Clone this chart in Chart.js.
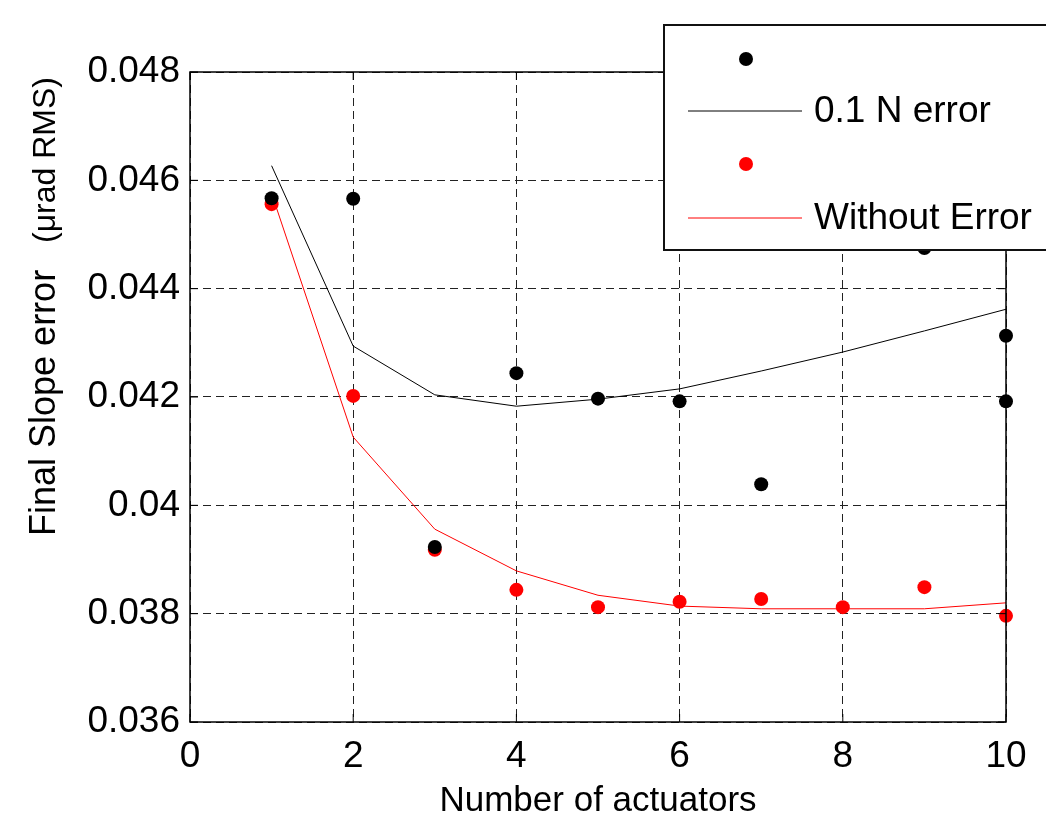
<!DOCTYPE html>
<html>
<head>
<meta charset="utf-8">
<script src="https://cdn.jsdelivr.net/npm/chart.js@4.4.1/dist/chart.umd.min.js"></script>
<style>
  html, body { margin: 0; padding: 0; background: #fff; }
  #wrap { width: 1046px; height: 819px; }
</style>
</head>
<body>
<div id="wrap"><canvas id="grafica" width="1046" height="819"></canvas></div>
<script>
// data
var actuators = [1, 2, 3, 4, 5, 6, 7, 8, 9, 10];
var errorX = [1, 2, 3, 4, 5, 6, 7, 9, 10, 10];
var errorPts = [0.04567, 0.04566, 0.03923, 0.04244, 0.04197, 0.04192, 0.04039, 0.04475, 0.04313, 0.04192];
var errorFit = [0.04627, 0.04294, 0.04204, 0.04183, 0.04196, 0.04215, 0.04248, 0.04283, 0.04322, 0.04362];
var noErrorPts = [0.04556, 0.04202, 0.03918, 0.03844, 0.03812, 0.03822, 0.03827, 0.03812, 0.03849, 0.03796];
var noErrorFit = [0.04576, 0.04126, 0.03956, 0.03879, 0.03834, 0.03814, 0.03809, 0.03809, 0.03809, 0.0382];
var xTicks = [0, 2, 4, 6, 8, 10];
var yTicks = [0.036, 0.038, 0.04, 0.042, 0.044, 0.046, 0.048];
var legendLabels = ['', '0.1 N error', '', 'Without Error'];

var fuente = "'Liberation Sans', Arial, sans-serif";

function pares(xs, ys) {
    return ys.map(function(v, i){ return {x: xs[i], y: v}; });
}

// frame, inside ticks, axis titles and the legend box
var marco = {
    id: 'marco',
    afterDatasetsDraw: function(chart){
        var ctx = chart.ctx, a = chart.chartArea;
        var sx = chart.scales.x, sy = chart.scales.y;
        ctx.save();
        ctx.strokeStyle = '#000';
        ctx.lineWidth = 1.5;
        ctx.setLineDash([]);
        ctx.strokeRect(a.left, a.top, a.right - a.left, a.bottom - a.top);
        ctx.lineWidth = 1;
        xTicks.forEach(function(t){
            var px = sx.getPixelForValue(t);
            ctx.beginPath();
            ctx.moveTo(px, a.bottom); ctx.lineTo(px, a.bottom - 8);
            ctx.moveTo(px, a.top); ctx.lineTo(px, a.top + 8);
            ctx.stroke();
        });
        yTicks.forEach(function(t){
            var py = sy.getPixelForValue(t);
            ctx.beginPath();
            ctx.moveTo(a.left, py); ctx.lineTo(a.left + 8, py);
            ctx.moveTo(a.right, py); ctx.lineTo(a.right - 8, py);
            ctx.stroke();
        });
        ctx.fillStyle = '#000';
        ctx.font = '35px ' + fuente;
        ctx.textAlign = 'center';
        ctx.textBaseline = 'middle';
        ctx.fillText('Number of actuators', (a.left + a.right) / 2, 801);
        // y title, two sizes
        ctx.translate(55, 0);
        ctx.rotate(-Math.PI / 2);
        ctx.textAlign = 'left';
        ctx.textBaseline = 'alphabetic';
        ctx.font = '36px ' + fuente;
        ctx.fillText('Final Slope error', -536, 0);
        ctx.font = '32px ' + fuente;
        ctx.fillText('(\u03bcrad RMS)', -243, 0);
        ctx.restore();
    },
    afterDraw: function(chart){
        var ctx = chart.ctx;
        var ds = chart.data.datasets;
        ctx.save();
        ctx.fillStyle = '#fff';
        ctx.fillRect(664, 25, 400, 225);
        ctx.strokeStyle = '#111';
        ctx.lineWidth = 2;
        ctx.strokeRect(664, 25, 400, 225);
        var filas = [59, 111, 164, 218];
        ds.forEach(function(d, i){
            var y = filas[i];
            if (d.showLine) {
                ctx.strokeStyle = d.borderColor;
                ctx.lineWidth = 1;
                ctx.beginPath();
                ctx.moveTo(688, y); ctx.lineTo(802, y);
                ctx.stroke();
            } else {
                ctx.fillStyle = d.backgroundColor;
                ctx.beginPath();
                ctx.arc(746, y, 7, 0, Math.PI * 2);
                ctx.fill();
            }
            if (d.label) {
                ctx.fillStyle = '#000';
                ctx.font = '37px ' + fuente;
                ctx.textAlign = 'left';
                ctx.textBaseline = 'middle';
                ctx.fillText(d.label, 814, y + 1);
            }
        });
        ctx.restore();
    }
};

var ctx = document.getElementById('grafica').getContext('2d');
var chart = new Chart(ctx, {
    type: 'scatter',
    data: {
        datasets: [{
            label: legendLabels[0],
            data: pares(errorX, errorPts),
            backgroundColor: '#000',
            borderColor: '#000',
            pointRadius: 7,
            borderWidth: 0,
            clip: false
        }, {
            label: legendLabels[1],
            data: pares(actuators, errorFit),
            showLine: true,
            borderColor: '#000',
            borderWidth: 1,
            pointRadius: 0,
            clip: false
        }, {
            label: legendLabels[2],
            data: pares(actuators, noErrorPts),
            backgroundColor: '#ff0000',
            borderColor: '#ff0000',
            pointRadius: 7,
            borderWidth: 0,
            clip: false
        }, {
            label: legendLabels[3],
            data: pares(actuators, noErrorFit),
            showLine: true,
            borderColor: '#ff0000',
            borderWidth: 1,
            pointRadius: 0,
            clip: false
        }]
    },
    options: {
        responsive: false,
        animation: false,
        layout: { padding: { left: 0, top: 72, right: 40, bottom: 0 } },
        plugins: { legend: { display: false }, tooltip: { enabled: false } },
        scales: {
            x: {
                type: 'linear',
                min: 0, max: 10,
                afterBuildTicks: function(s){ s.ticks = xTicks.map(function(v){ return {value: v}; }); },
                afterFit: function(s){ s.height = 97; },
                ticks: { color: '#000', font: { family: fuente, size: 37 }, padding: 13, maxRotation: 0 },
                grid: { color: '#222', lineWidth: 1, drawTicks: false },
                border: { display: false, dash: [8, 5] }
            },
            y: {
                type: 'linear',
                min: 0.036, max: 0.048,
                afterBuildTicks: function(s){ s.ticks = yTicks.map(function(v){ return {value: v}; }); },
                afterFit: function(s){ s.width = 190; },
                ticks: {
                    color: '#000', font: { family: fuente, size: 37 }, padding: 10,
                    callback: function(v){ return String(+v.toFixed(3)); }
                },
                grid: { color: '#222', lineWidth: 1, drawTicks: false },
                border: { display: false, dash: [8, 5] }
            }
        }
    },
    plugins: [marco]
});
</script>
</body>
</html>
